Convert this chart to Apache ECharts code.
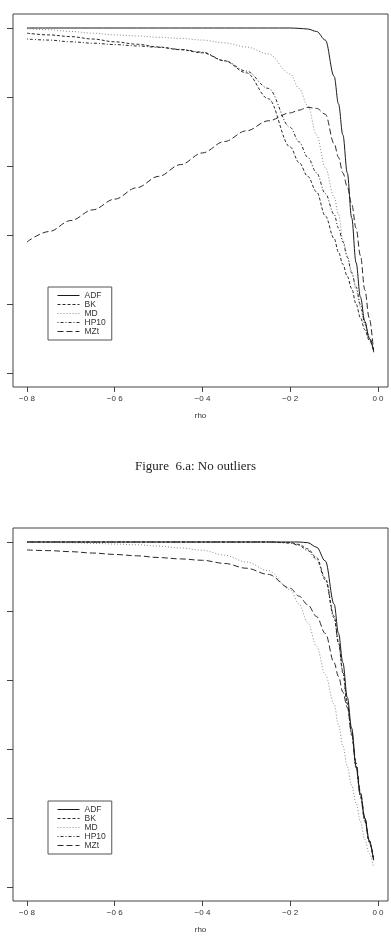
<!DOCTYPE html>
<html>
<head>
<meta charset="utf-8">
<script src="https://cdn.jsdelivr.net/npm/echarts@6/dist/echarts.min.js"></script>
<style>html,body{margin:0;padding:0;background:#fff}#c{width:391px;height:941px}</style>
</head>
<body>
<div id="c"></div>
<script>
// ---- data ----
const rho = [-0.80,-0.75,-0.70,-0.65,-0.60,-0.55,-0.50,-0.45,-0.40,-0.35,-0.30,-0.25,-0.20,-0.18,-0.16,-0.14,-0.12,-0.10,-0.09,-0.08,-0.07,-0.06,-0.05,-0.04,-0.03,-0.02,-0.01];
const seriesNames = ['ADF','BK','MD','HP10','MZt'];

// Figure 6.a: No outliers
const adfA  = [1.0,1.0,1.0,1.0,1.0,1.0,1.0,1.0,1.0,1.0,1.0,1.0,1.0,0.999,0.997,0.99,0.965,0.86,0.78,0.69,0.58,0.45,0.32,0.22,0.15,0.10,0.065];
const bkA   = [0.985,0.98,0.975,0.968,0.96,0.953,0.945,0.937,0.928,0.905,0.87,0.795,0.655,0.61,0.57,0.525,0.455,0.39,0.35,0.315,0.28,0.245,0.20,0.16,0.125,0.095,0.065];
const mdA   = [0.998,0.995,0.99,0.985,0.98,0.977,0.973,0.97,0.965,0.957,0.945,0.925,0.867,0.825,0.775,0.69,0.595,0.51,0.46,0.386,0.34,0.295,0.24,0.188,0.14,0.10,0.065];
const hpA   = [0.968,0.965,0.96,0.956,0.952,0.948,0.944,0.938,0.93,0.905,0.875,0.825,0.712,0.67,0.625,0.58,0.52,0.46,0.42,0.38,0.336,0.29,0.25,0.198,0.145,0.105,0.065];
const mztA  = [0.38,0.41,0.442,0.473,0.504,0.537,0.57,0.604,0.638,0.671,0.702,0.731,0.754,0.762,0.77,0.767,0.75,0.665,0.625,0.58,0.54,0.49,0.42,0.34,0.241,0.16,0.06];

// Figure 6.b
const adfB  = [1.0,1.0,1.0,1.0,1.0,1.0,1.0,1.0,1.0,1.0,1.0,1.0,1.0,1.0,0.998,0.985,0.945,0.82,0.735,0.65,0.55,0.46,0.35,0.27,0.20,0.135,0.078];
const bkB   = [1.0,1.0,1.0,1.0,1.0,1.0,1.0,1.0,1.0,1.0,1.0,1.0,0.998,0.993,0.98,0.955,0.895,0.785,0.71,0.625,0.535,0.445,0.35,0.265,0.195,0.13,0.078];
const mdB   = [1.0,0.999,0.998,0.996,0.994,0.992,0.988,0.983,0.976,0.962,0.942,0.917,0.862,0.82,0.766,0.698,0.615,0.53,0.47,0.41,0.349,0.295,0.243,0.19,0.138,0.097,0.058];
const hpB   = [1.0,1.0,1.0,1.0,1.0,1.0,1.0,1.0,1.0,1.0,1.0,1.0,0.997,0.99,0.975,0.95,0.89,0.78,0.705,0.62,0.53,0.44,0.345,0.26,0.19,0.13,0.078];
const mztB  = [0.977,0.975,0.972,0.968,0.964,0.96,0.955,0.951,0.947,0.938,0.924,0.906,0.866,0.843,0.818,0.784,0.735,0.65,0.61,0.565,0.52,0.45,0.36,0.275,0.20,0.135,0.078];

const xTickValues = [-0.8,-0.6,-0.4,-0.2,0];
const xTickLabels = ['\u22120 8','\u22120 6','\u22120 4','\u22120 2','0 0'];
const yTickValues = [0,0.2,0.4,0.6,0.8,1.0];
const caption = 'Figure  6.a: No outliers';

// ---- styles ----
const styles = {
  ADF:  {color:'#1a1a1a', type:'solid', width:1},
  BK:   {color:'#2a2a2a', type:[3,2], width:1},
  MD:   {color:'#8a8a8a', type:[1,2], width:1},
  HP10: {color:'#2a2a2a', type:[1,2,3,2], width:1},
  MZt:  {color:'#2a2a2a', type:[6,3], width:1}
};

function pairs(vals){ return rho.map((r,i)=>[r, vals[i]]); }

const sets = [[adfA,bkA,mdA,hpA,mztA],[adfB,bkB,mdB,hpB,mztB]];
const gridTops = [14, 528];
const H = 373;

const grids = gridTops.map(t=>({left:13, right:3, top:t, height:H, show:true, borderColor:'#444', borderWidth:1, backgroundColor:'transparent'}));

const xAxes = gridTops.map((t,i)=>({
  type:'value', gridIndex:i, position:'bottom', min:-0.8319, max:0.0228,
  splitLine:{show:false},
  axisLine:{show:false, onZero:false},
  axisTick:{show:true, length:5, inside:false, customValues:xTickValues, lineStyle:{color:'#444'}},
  axisLabel:{show:true, customValues:xTickValues, margin:8, fontSize:8, color:'#333', fontFamily:'Liberation Sans',
    formatter:(v)=>{ const k = xTickValues.findIndex(x=>Math.abs(x-v)<1e-6); return k>=0?xTickLabels[k]:''; }},
  name:'rho', nameLocation:'middle', nameGap:25, nameTextStyle:{fontSize:8, color:'#333', fontFamily:'Liberation Sans'}
}));

const yAxes = gridTops.map((t,i)=>({
  type:'value', gridIndex:i, position:'left', min:-0.0406, max:1.0406,
  splitLine:{show:false},
  axisLine:{show:false, onZero:false},
  axisTick:{show:true, length:6, customValues:yTickValues, lineStyle:{color:'#444'}},
  axisLabel:{show:false}
}));

const series = [];
sets.forEach((set,gi)=>{
  set.forEach((vals,k)=>{
    const nm = seriesNames[k];
    series.push({
      type:'line', name:nm, xAxisIndex:gi, yAxisIndex:gi,
      data:pairs(vals), showSymbol:false, symbol:'none',
      smooth:0.35, smoothMonotone:'x',
      lineStyle:{color:styles[nm].color, type:styles[nm].type, width:styles[nm].width},
      itemStyle:{color:styles[nm].color},
      emphasis:{disabled:true}, animation:false, z: (nm==='ADF'?5:3)
    });
  });
});

const legends = [287, 801].map(t=>({
  show:true, data:seriesNames, orient:'vertical', left:48, top:t,
  padding:[4,6,4,9], itemGap:0, itemWidth:22, itemHeight:8,
  borderColor:'#555', borderWidth:1, selectedMode:false,
  itemStyle:{opacity:0},
  lineStyle:{width:1},
  textStyle:{fontSize:8.5, color:'#333', fontFamily:'Liberation Sans', lineHeight:8}
}));

const chart = echarts.init(document.getElementById('c'), null, {renderer:'canvas'});
chart.setOption({
  animation:false,
  backgroundColor:'#fff',
  title:{text:caption, left:'center', top:455, textStyle:{fontFamily:'Liberation Serif', fontWeight:'normal', fontSize:13, color:'#222'}},
  grid:grids, xAxis:xAxes, yAxis:yAxes, legend:legends, series:series
});
</script>
</body>
</html>
